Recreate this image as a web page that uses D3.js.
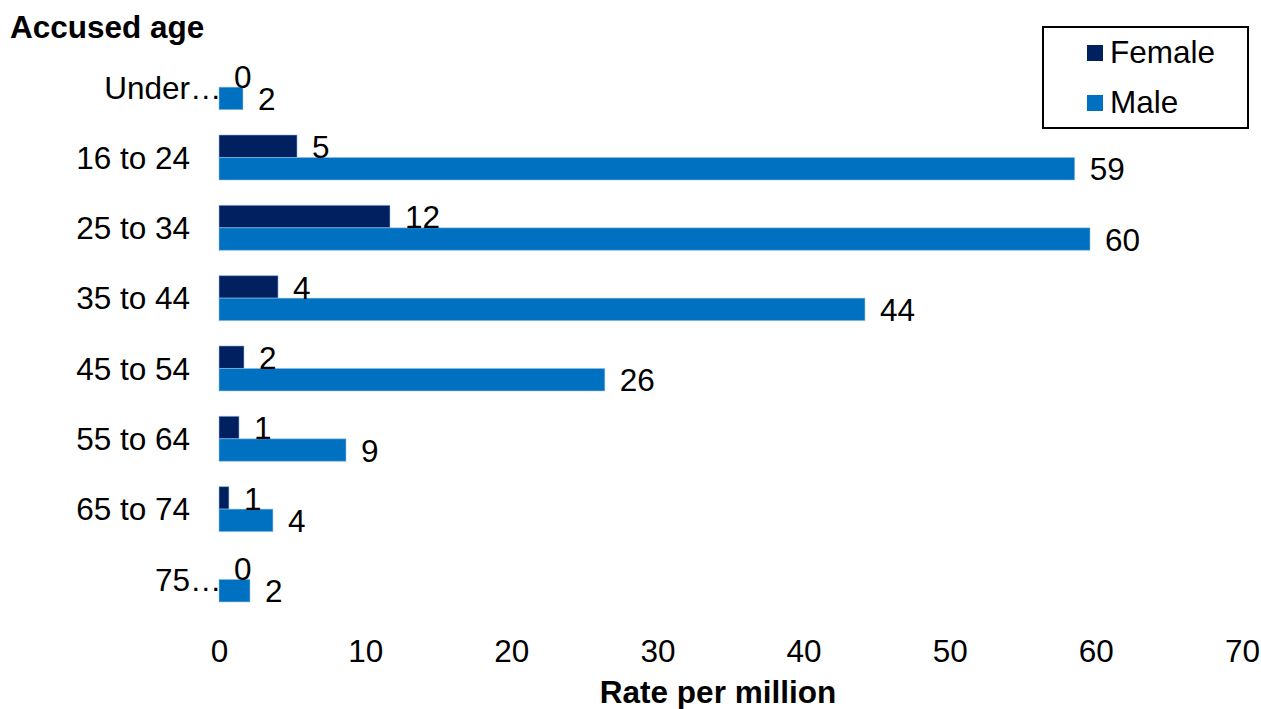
<!DOCTYPE html>
<html>
<head>
<meta charset="utf-8">
<script src="https://cdn.jsdelivr.net/npm/d3@7"></script>
<style>
  html, body { margin: 0; padding: 0; background: #fff; }
  svg text { font-family: "Liberation Sans", Arial, sans-serif; fill: #000; }
</style>
</head>
<body>
<svg id="chart" width="1261" height="709"></svg>
<script>
// Age groups of the accused (full names) and the labels shown on the axis
const categories = ["Under 16", "16 to 24", "25 to 34", "35 to 44", "45 to 54", "55 to 64", "65 to 74", "75 and over"];
const categoryLabels = ["Under…", "16 to 24", "25 to 34", "35 to 44", "45 to 54", "55 to 64", "65 to 74", "75…"];

// Rate per million by sex
const seriesNames = ["Female", "Male"];
const femaleValues = [0, 5.34, 11.7, 4.04, 1.71, 1.37, 0.68, 0];
const maleValues = [1.64, 58.55, 59.6, 44.2, 26.4, 8.69, 3.69, 2.12];

// Axis ticks
const xTicks = [0, 10, 20, 30, 40, 50, 60, 70];

const colors = { Female: "#002060", Male: "#0070C0" };
const fontSize = 31.5;

const svg = d3.select("#chart");

const margin = { left: 219, right: 1242, top: 52, bottom: 614.6 };

const x = d3.scaleLinear().domain([0, 70]).range([margin.left, margin.right]);
const y = d3.scaleBand().domain(categories).range([margin.top, margin.bottom])
  .paddingInner(0.36).paddingOuter(0.18);
const ySub = d3.scaleBand().domain(seriesNames).range([0, y.bandwidth()]);

const rows = categories.map((c, i) => ({
  category: c,
  label: categoryLabels[i],
  values: [
    { series: "Female", value: femaleValues[i] },
    { series: "Male", value: maleValues[i] }
  ]
}));

// Bars
const groups = svg.append("g").selectAll("g")
  .data(rows).join("g")
  .attr("transform", d => `translate(0,${y(d.category)})`);

groups.selectAll("rect")
  .data(d => d.values.filter(v => v.value > 0))
  .join("rect")
  .attr("x", x(0))
  .attr("y", v => ySub(v.series))
  .attr("width", v => x(v.value) - x(0))
  .attr("height", ySub.bandwidth())
  .attr("fill", v => colors[v.series])
  .attr("stroke", "#9dc3e6")
  .attr("stroke-opacity", 0.55)
  .attr("stroke-width", 1);

// Value labels
const fmt = d3.format(".0f");
groups.selectAll("text.value")
  .data(d => d.values)
  .join("text")
  .attr("class", "value")
  .attr("x", v => x(v.value) + 15)
  .attr("y", v => ySub(v.series) + ySub.bandwidth() / 2 + fontSize * 0.37)
  .attr("font-size", fontSize)
  .text(v => fmt(v.value));

// Category labels (truncated ones keep their ellipsis past the label edge)
const catG = svg.append("g");
rows.forEach(d => {
  const cy = y(d.category) + y.bandwidth() / 2 + fontSize * 0.36;
  const truncated = d.label.endsWith("…");
  const base = truncated ? d.label.slice(0, -1) : d.label;
  catG.append("text")
    .attr("x", 190).attr("y", cy)
    .attr("text-anchor", "end")
    .attr("font-size", fontSize)
    .text(base);
  if (truncated) {
    catG.append("text")
      .attr("x", 190).attr("y", cy)
      .attr("font-size", fontSize)
      .text("…");
  }
});

// X axis (labels only)
const xAxis = svg.append("g")
  .attr("transform", "translate(0,636)")
  .call(d3.axisBottom(x).tickValues(xTicks).tickSize(0).tickPadding(4).tickFormat(d3.format("d")));
xAxis.select(".domain").remove();
xAxis.selectAll("text")
  .attr("font-size", fontSize)
  .attr("dy", "0.71em")
  .style("font-family", "'Liberation Sans', Arial, sans-serif")
  .attr("fill", "#000");

// Axis titles
svg.append("text")
  .attr("x", 10).attr("y", 38)
  .attr("font-size", fontSize)
  .attr("font-weight", "bold")
  .text("Accused age");

svg.append("text")
  .attr("x", 718).attr("y", 703)
  .attr("text-anchor", "middle")
  .attr("font-size", fontSize)
  .attr("font-weight", "bold")
  .text("Rate per million");

// Legend
const legend = svg.append("g");
legend.append("rect")
  .attr("x", 1043).attr("y", 27)
  .attr("width", 205).attr("height", 101)
  .attr("fill", "#fff")
  .attr("stroke", "#000")
  .attr("stroke-width", 2);

const legendItems = legend.selectAll("g.item")
  .data(seriesNames).join("g")
  .attr("class", "item")
  .attr("transform", (d, i) => `translate(1087,${45 + i * 50})`);

legendItems.append("rect")
  .attr("width", 16).attr("height", 16)
  .attr("fill", d => colors[d]);

legendItems.append("text")
  .attr("x", 23).attr("y", 18)
  .attr("font-size", fontSize)
  .text(d => d);
</script>
</body>
</html>
